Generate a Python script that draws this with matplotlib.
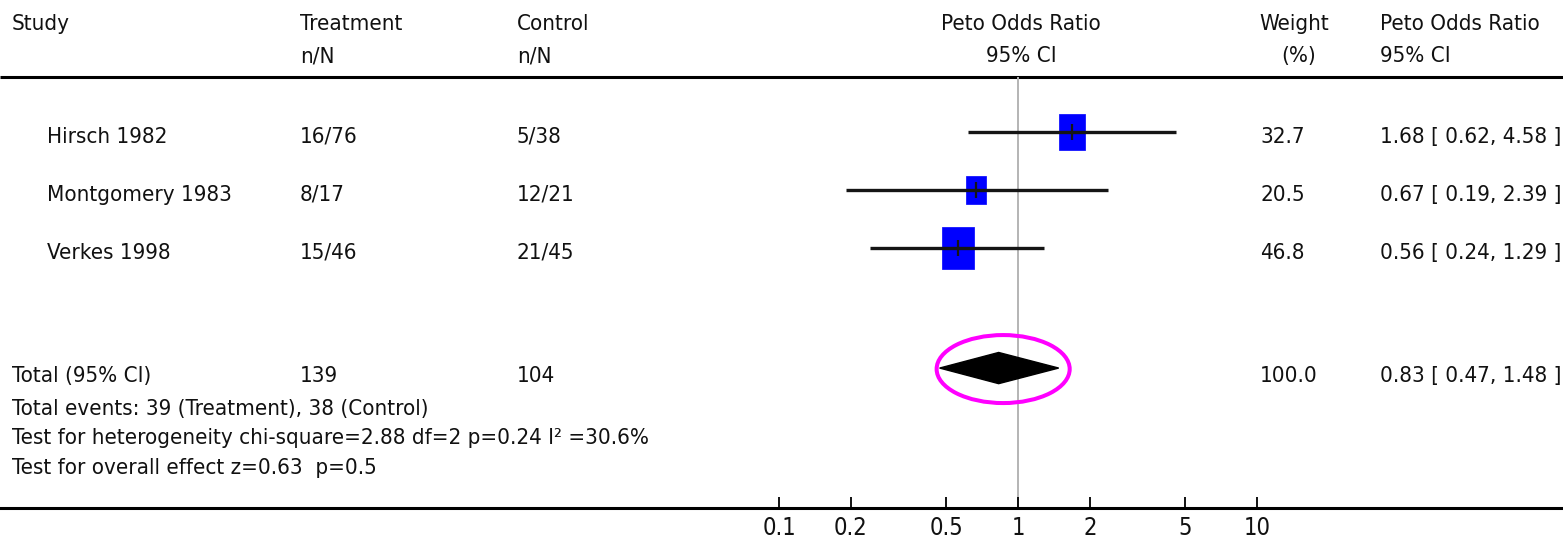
import numpy as np
import matplotlib
matplotlib.use("Agg")
import matplotlib.pyplot as plt
from matplotlib.patches import Ellipse
from matplotlib.transforms import IdentityTransform
from matplotlib.markers import MarkerStyle
from matplotlib.path import Path

# ---------------- data ----------------
studies = ["Hirsch 1982", "Montgomery 1983", "Verkes 1998"]
treat_n = [16, 8, 15]
treat_N = [76, 17, 46]
ctrl_n = [5, 12, 21]
ctrl_N = [38, 21, 45]
weights = [32.7, 20.5, 46.8]
or_est = [1.68, 0.67, 0.56]
or_lo = [0.62, 0.19, 0.24]
or_hi = [4.58, 2.39, 1.29]

total_label = "Total (95% CI)"
total_weight = 100.0
total_est, total_lo, total_hi = 0.83, 0.47, 1.48
footnotes = [
    "Total events: 39 (Treatment), 38 (Control)",
    "Test for heterogeneity chi-square=2.88 df=2 p=0.24 I\u00b2 =30.6%",
    "Test for overall effect z=0.63  p=0.5",
]
xticks = [0.1, 0.2, 0.5, 1, 2, 5, 10]
xtick_labels = ["0.1", "0.2", "0.5", "1", "2", "5", "10"]

# ---------------- style / layout ----------------
plt.rcParams['font.family'] = ['DejaVu Sans']
plt.rcParams['font.stretch'] = 'condensed'
FS = 16
TXT = '#111111'

W, H = 1563, 542
fig = plt.figure(figsize=(W / 100, H / 100), dpi=100)
fig.patch.set_facecolor('white')

bg = fig.add_axes([0, 0, 1, 1])
bg.set_xlim(0, W)
bg.set_ylim(H, 0)
bg.axis('off')

top_px, bot_px = 77, 508
x1_px, dec_px = 1018, 239
first_row_px, row_step = 132, 58
total_row = 4.07

ax = fig.add_axes([0, (H - bot_px) / H, 1, (bot_px - top_px) / H])
ax.patch.set_alpha(0)
ax.set_xscale('log')
ax.set_xlim(10 ** ((0 - x1_px) / dec_px), 10 ** ((W - x1_px) / dec_px))
ytop = -(first_row_px - top_px) / row_step
ax.set_ylim(ytop + (bot_px - top_px) / row_step, ytop)

for s in ['top', 'left', 'right']:
    ax.spines[s].set_visible(False)
ax.spines['bottom'].set_linewidth(2.2)
ax.spines['bottom'].set_color('black')
ax.set_yticks([])
ax.set_xticks(xticks)
ax.set_xticklabels(xtick_labels)
ax.xaxis.set_minor_locator(matplotlib.ticker.NullLocator())
ax.tick_params(axis='x', direction='in', length=8, width=1.3, pad=6,
               labelsize=17, colors='black', labelcolor=TXT)

# line of no effect
ax.axvline(1, color='#b4b4b4', lw=1.4, zorder=1)

# study markers
rect = Path([(-0.73, -1), (0.73, -1), (0.73, 1), (-0.73, 1), (-0.73, -1)],
            [Path.MOVETO, Path.LINETO, Path.LINETO, Path.LINETO, Path.CLOSEPOLY])
rows = np.arange(len(studies))
for i, (e, lo, hi, w) in enumerate(zip(or_est, or_lo, or_hi, weights)):
    ax.plot([e], [rows[i]], marker=MarkerStyle(rect), ms=4.52 * np.sqrt(w),
            color='#0000ff', mec='#0000ff', mew=0.5, ls='none', zorder=2)
    ax.hlines(rows[i], lo, hi, color='#151515', lw=2.4, zorder=3)
    ax.plot([e], [rows[i]], marker='|', ms=11.5, mew=1.6, color='#151515',
            ls='none', zorder=4)

# total diamond
dh = 15.6 / row_step
ax.fill([total_lo, total_est, total_hi, total_est],
        [total_row, total_row - dh, total_row, total_row + dh],
        color='black', zorder=3)

# magenta ellipse around the pooled estimate
xl = ax.transData.transform((total_lo, total_row))
xh = ax.transData.transform((total_hi, total_row))
cx = (xl[0] + xh[0]) / 2 + 4
cy = xl[1] - 1
ell = Ellipse((cx, cy), (xh[0] - xl[0]) + 14, 68, transform=IdentityTransform(),
              facecolor='none', edgecolor='#ff00ff', lw=2.9, zorder=5)
fig.add_artist(ell)

# header line
bg.plot([0, W], [77, 77], color='black', lw=2.2, solid_capstyle='butt')

def t(x, y, s, ha='left'):
    bg.text(x, y, s, ha=ha, va='baseline', fontsize=FS, color=TXT)

# header
h1, h2 = 30, 62
t(12, h1, "Study")
t(300, h1, "Treatment"); t(300, h2, "n/N")
t(517, h1, "Control"); t(517, h2, "n/N")
t(1021, h1, "Peto Odds Ratio", 'center'); t(1021, h2, "95% CI", 'center')
t(1294, h1, "Weight", 'center'); t(1299, h2, "(%)", 'center')
t(1380, h1, "Peto Odds Ratio"); t(1380, h2, "95% CI")

# study rows
for i, name in enumerate(studies):
    yb = first_row_px + rows[i] * row_step + 11
    t(47, yb, name)
    t(300, yb, f"{treat_n[i]}/{treat_N[i]}")
    t(517, yb, f"{ctrl_n[i]}/{ctrl_N[i]}")
    t(1260, yb, f"{weights[i]:.1f}")
    t(1380, yb, f"{or_est[i]:.2f} [ {or_lo[i]:.2f}, {or_hi[i]:.2f} ]")

# total row
yb = first_row_px + total_row * row_step + 14
t(12, yb, total_label)
t(300, yb, f"{sum(treat_N)}")
t(517, yb, f"{sum(ctrl_N)}")
t(1260, yb, f"{total_weight:.1f}")
t(1380, yb, f"{total_est:.2f} [ {total_lo:.2f}, {total_hi:.2f} ]")

for k, line in enumerate(footnotes):
    t(12, 415 + k * 29.3, line)

fig.savefig("out.png", dpi=100, facecolor='white')
